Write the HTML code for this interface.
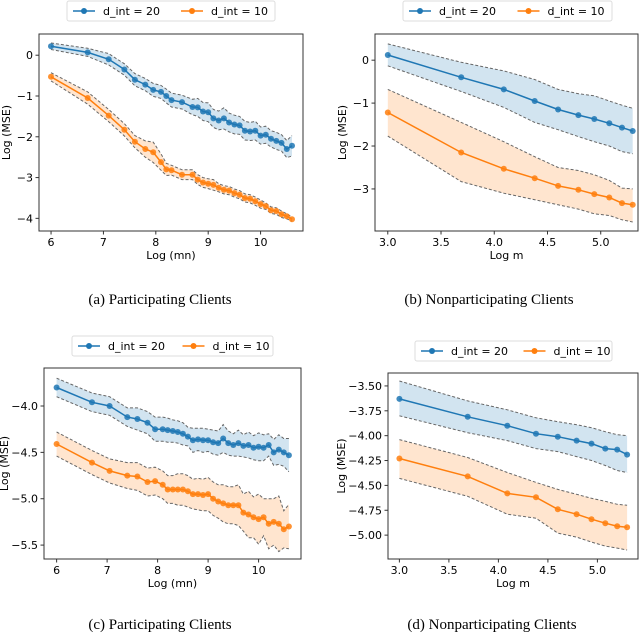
<!DOCTYPE html>
<html><head><meta charset="utf-8">
<style>
html,body{margin:0;padding:0;background:#fff;}
svg{display:block;font-family:"DejaVu Sans","Liberation Sans",sans-serif;}
.cap{font-family:"Liberation Serif","DejaVu Serif",serif;font-size:15px;}
</style></head>
<body>
<svg id="chart" width="640" height="636" viewBox="0 0 640 636" xmlns="http://www.w3.org/2000/svg"></svg>
<script>
// ---- Panel a data ----
const xA = [6,6.7,7.1,7.4,7.6,7.8,7.95,8.1,8.2,8.3,8.5,8.7,8.8,8.9,9.0,9.1,9.2,9.3,9.4,9.5,9.6,9.7,9.8,9.9,10.0,10.1,10.2,10.3,10.4,10.5,10.6];
const blueA = [0.22,0.07,-0.1,-0.35,-0.6,-0.72,-0.85,-0.9,-1.0,-1.1,-1.15,-1.27,-1.28,-1.38,-1.4,-1.55,-1.6,-1.55,-1.65,-1.7,-1.72,-1.85,-1.87,-1.85,-1.97,-1.95,-2.05,-2.1,-2.15,-2.3,-2.22];
const orangeA = [-0.53,-1.05,-1.48,-1.83,-2.12,-2.3,-2.38,-2.62,-2.8,-2.82,-2.93,-2.93,-3.05,-3.12,-3.15,-3.18,-3.25,-3.3,-3.32,-3.38,-3.42,-3.5,-3.52,-3.58,-3.65,-3.7,-3.8,-3.82,-3.9,-3.95,-4.02];
const blueBandA = [0.08,0.1,0.14,0.14,0.15,0.15,0.16,0.16,0.17,0.17,0.17,0.19,0.22,0.22,0.23,0.22,0.23,0.26,0.23,0.23,0.22,0.23,0.22,0.23,0.21,0.21,0.2,0.21,0.2,0.21,0.25];
const orangeBandA = [0.1,0.15,0.15,0.15,0.15,0.2,0.25,0.2,0.15,0.12,0.12,0.12,0.12,0.12,0.12,0.13,0.1,0.1,0.1,0.1,0.1,0.1,0.1,0.1,0.1,0.08,0.08,0.08,0.08,0.06,0.05];
const xTicksA = [6,7,8,9,10];
const yTicksA = [0,-1,-2,-3,-4];
// ---- Panel b data ----
const xB = [3.0,3.69,4.09,4.38,4.6,4.79,4.94,5.08,5.2,5.3];
const blueB = [0.12,-0.4,-0.68,-0.95,-1.15,-1.28,-1.37,-1.47,-1.57,-1.65];
const blueUpB = [0.38,-0.05,-0.25,-0.45,-0.68,-0.78,-0.83,-0.95,-1.05,-1.12];
const blueLoB = [-0.13,-0.73,-1.1,-1.45,-1.62,-1.78,-1.9,-2.0,-2.13,-2.18];
const orangeB = [-1.22,-2.15,-2.53,-2.75,-2.93,-3.02,-3.12,-3.2,-3.33,-3.37];
const orangeUpB = [-0.68,-1.45,-1.9,-2.25,-2.5,-2.57,-2.67,-2.8,-2.98,-3.0];
const orangeLoB = [-1.77,-2.83,-3.1,-3.25,-3.37,-3.47,-3.58,-3.62,-3.72,-3.77];
const xTicksB = [3.0,3.5,4.0,4.5,5.0];
const yTicksB = [0,-1,-2,-3];
// ---- Panel c data ----
const xC = [6,6.7,7.05,7.4,7.6,7.8,7.95,8.1,8.2,8.3,8.4,8.5,8.6,8.7,8.8,8.9,9.0,9.1,9.2,9.3,9.4,9.5,9.6,9.7,9.8,9.9,10.0,10.1,10.2,10.3,10.4,10.5,10.6];
const blueC = [-3.8,-3.96,-4.0,-4.12,-4.14,-4.18,-4.25,-4.25,-4.26,-4.27,-4.28,-4.3,-4.33,-4.37,-4.36,-4.37,-4.37,-4.39,-4.4,-4.35,-4.4,-4.42,-4.4,-4.43,-4.42,-4.45,-4.44,-4.45,-4.42,-4.5,-4.47,-4.5,-4.53];
const orangeC = [-4.41,-4.61,-4.7,-4.75,-4.76,-4.82,-4.81,-4.85,-4.9,-4.9,-4.9,-4.9,-4.92,-4.95,-4.95,-4.96,-4.95,-5.0,-5.03,-5.05,-5.07,-5.07,-5.07,-5.15,-5.17,-5.2,-5.22,-5.2,-5.27,-5.25,-5.27,-5.33,-5.3];
const blueBandC = [0.1,0.1,0.1,0.1,0.12,0.12,0.13,0.13,0.13,0.12,0.12,0.12,0.1,0.13,0.12,0.13,0.12,0.13,0.13,0.15,0.13,0.12,0.14,0.12,0.14,0.13,0.15,0.14,0.12,0.14,0.16,0.15,0.18];
const orangeBandC = [0.13,0.13,0.13,0.14,0.15,0.15,0.15,0.15,0.15,0.15,0.17,0.17,0.17,0.16,0.17,0.17,0.18,0.18,0.18,0.2,0.2,0.2,0.22,0.2,0.25,0.22,0.27,0.2,0.27,0.25,0.3,0.2,0.24];
const xTicksC = [6,7,8,9,10];
const yTicksC = [-4.0,-4.5,-5.0,-5.5];
// ---- Panel d data ----
const xD = [3.0,3.69,4.09,4.38,4.6,4.79,4.94,5.08,5.2,5.3];
const blueD = [-3.63,-3.81,-3.9,-3.98,-4.01,-4.05,-4.08,-4.13,-4.14,-4.19];
const blueUpD = [-3.45,-3.65,-3.74,-3.82,-3.86,-3.89,-3.92,-3.96,-3.99,-4.0];
const blueLoD = [-3.8,-3.97,-4.05,-4.13,-4.16,-4.21,-4.25,-4.3,-4.35,-4.37];
const orangeD = [-4.23,-4.41,-4.58,-4.62,-4.74,-4.79,-4.84,-4.88,-4.91,-4.92];
const orangeUpD = [-4.04,-4.22,-4.37,-4.47,-4.54,-4.59,-4.63,-4.66,-4.69,-4.7];
const orangeLoD = [-4.43,-4.61,-4.79,-4.83,-4.98,-5.02,-5.07,-5.11,-5.13,-5.15];
const xTicksD = [3.0,3.5,4.0,4.5,5.0];
const yTicksD = [-3.5,-3.75,-4.0,-4.25,-4.5,-4.75,-5.0];

const NS = "http://www.w3.org/2000/svg";
const svg = document.getElementById('chart');
function mk(tag, attrs, parent){
  const e = document.createElementNS(NS, tag);
  for (const k in attrs) e.setAttribute(k, attrs[k]);
  (parent||svg).appendChild(e);
  return e;
}
const BLUE = '#1f77b4', ORANGE = '#ff7f0e';

function panel(p){
  const g = mk('g', {});
  
  
  const sx = v => p.L + (v - p.x0) / (p.x1 - p.x0) * (p.R - p.L);
  const sy = v => p.T + (p.y1 - v) / (p.y1 - p.y0) * (p.B - p.T);
  p.series.forEach(s => {
    const sg = mk('g', {}, g);
    
    
    const up = s.y.map((v,i)=> s.up ? s.up[i] : v + s.band[i]);
    const lo = s.y.map((v,i)=> s.lo ? s.lo[i] : v - s.band[i]);
    let d = '';
    p.x.forEach((xv,i)=>{ d += (i?'L':'M') + sx(xv).toFixed(1) + ',' + sy(up[i]).toFixed(1); });
    for (let i = p.x.length-1; i>=0; i--) d += 'L' + sx(p.x[i]).toFixed(1) + ',' + sy(lo[i]).toFixed(1);
    const band = mk('path', {d: d + 'Z', fill: s.color, 'fill-opacity': 0.2, stroke: 'none'}, sg);
    
    
    [up, lo].forEach(arr => {
      const pl = mk('polyline', {points: p.x.map((xv,i)=>sx(xv).toFixed(1)+','+sy(arr[i]).toFixed(1)).join(' '), fill:'none', stroke:'#666', 'stroke-width':1, 'stroke-dasharray':'3,2'}, sg);
      
      
    });
    const ln = mk('polyline', {points: p.x.map((xv,i)=>sx(xv).toFixed(1)+','+sy(s.y[i]).toFixed(1)).join(' '), fill:'none', stroke:s.color, 'stroke-width':1.5}, sg);
    
    
    p.x.forEach((xv,i)=>{
      const c = mk('circle', {cx: sx(xv).toFixed(1), cy: sy(s.y[i]).toFixed(1), r: 3, fill: s.color, 'fill-opacity':0.85}, sg);
      
      
    });
  });
  const fr = mk('rect', {x:p.L, y:p.T, width:p.R-p.L, height:p.B-p.T, fill:'none', stroke:'#333', 'stroke-width':1}, g);
  
  
  p.xt.forEach(t=>{
    const X = sx(t);
    mk('line', {x1:X, x2:X, y1:p.B, y2:p.B+3.5, stroke:'#333'}, g);
    const tx = mk('text', {x:X, y:p.B+15, 'font-size':11, 'text-anchor':'middle', fill:'#000'}, g);
    
    
    tx.textContent = t.toFixed(p.xdec);
  });
  p.yt.forEach(t=>{
    const Y = sy(t);
    mk('line', {x1:p.L-3.5, x2:p.L, y1:Y, y2:Y, stroke:'#333'}, g);
    const tx = mk('text', {x:p.L-6, y:Y+4, 'font-size':11, 'text-anchor':'end', fill:'#000'}, g);
    
    
    tx.textContent = (t<0?'\u2212':'') + Math.abs(t).toFixed(p.ydec);
  });
  const xl = mk('text', {x:(p.L+p.R)/2, y:p.B+28, 'font-size':11, 'text-anchor':'middle'}, g);
  
  
  xl.textContent = p.xlabel;
  const yl = mk('text', {x:0, y:0, 'font-size':11, 'text-anchor':'middle', transform:'translate('+p.ylx+','+((p.T+p.B)/2)+') rotate(-90)'}, g);
  
  
  yl.textContent = 'Log (MSE)';
  const lg = mk('g', {}, g);
  
  
  mk('rect', {x:p.lx, y:p.ly, width:p.lw, height:20, rx:2, fill:'#fff', stroke:'#ddd'}, lg);
  [['d_int = 20', BLUE, 0], ['d_int = 10', ORANGE, p.lw/2 + 4]].forEach(([lab,col,off])=>{
    const eg = mk('g', {}, lg);
    
    
    const x0 = p.lx + 6 + off, yc = p.ly + 10;
    mk('line', {x1:x0, x2:x0+22, y1:yc, y2:yc, stroke:col, 'stroke-width':1.5}, eg);
    mk('circle', {cx:x0+11, cy:yc, r:3, fill:col}, eg);
    const t = mk('text', {x:x0+30, y:yc+4, 'font-size':11}, eg);
    t.textContent = lab;
  });
  const cp = mk('text', {x:p.cx, y:p.cy, 'text-anchor':'middle', class:'cap'}, g);
  
  
  cp.textContent = p.caption;
}

panel({id:'a', L:39, R:303, T:34, B:231, x0:5.77, x1:10.81, y0:-4.31, y1:0.52, x:xA,
  series:[{name:'d20', color:BLUE, y:blueA, band:blueBandA},{name:'d10', color:ORANGE, y:orangeA, band:orangeBandA}],
  xt:xTicksA, yt:yTicksA, xdec:0, ydec:0, xlabel:'Log (mn)', ylx:10, lx:67, ly:1, lw:208, cx:160, cy:304, caption:'(a) Participating Clients'});
panel({id:'b', L:375, R:638, T:34, B:231, x0:2.88, x1:5.35, y0:-3.98, y1:0.61, x:xB,
  series:[{name:'d20', color:BLUE, y:blueB, up:blueUpB, lo:blueLoB},{name:'d10', color:ORANGE, y:orangeB, up:orangeUpB, lo:orangeLoB}],
  xt:xTicksB, yt:yTicksB, xdec:1, ydec:0, xlabel:'Log m', ylx:346, lx:403, ly:1, lw:209, cx:489, cy:304, caption:'(b) Nonparticipating Clients'});
panel({id:'c', L:44, R:301, T:368, B:559, x0:5.75, x1:10.84, y0:-5.65, y1:-3.59, x:xC,
  series:[{name:'d20', color:BLUE, y:blueC, band:blueBandC},{name:'d10', color:ORANGE, y:orangeC, band:orangeBandC}],
  xt:xTicksC, yt:yTicksC, xdec:0, ydec:1, xlabel:'Log (mn)', ylx:8, lx:72, ly:336, lw:201, cx:160, cy:629, caption:'(c) Participating Clients'});
panel({id:'d', L:388, R:638, T:373, B:559, x0:2.885, x1:5.41, y0:-5.24, y1:-3.37, x:xD,
  series:[{name:'d20', color:BLUE, y:blueD, up:blueUpD, lo:blueLoD},{name:'d10', color:ORANGE, y:orangeD, up:orangeUpD, lo:orangeLoD}],
  xt:xTicksD, yt:yTicksD, xdec:1, ydec:2, xlabel:'Log m', ylx:345, lx:415, ly:341, lw:197, cx:492, cy:629, caption:'(d) Nonparticipating Clients'});
</script>
</body></html>
